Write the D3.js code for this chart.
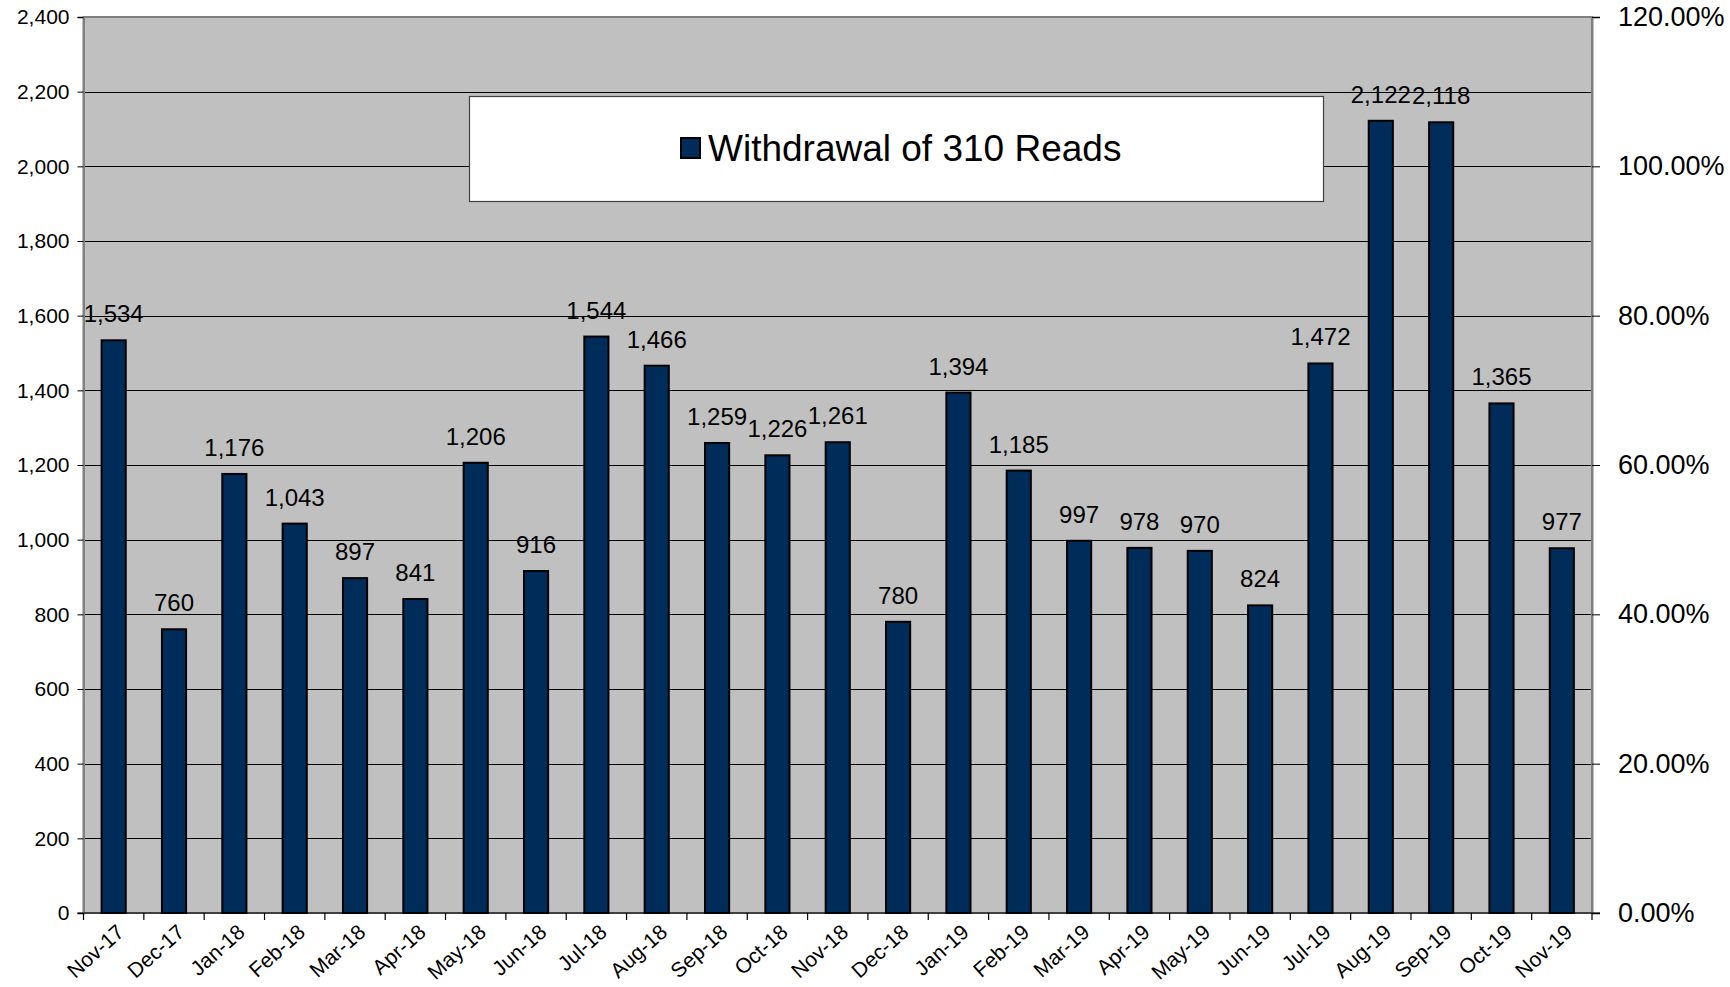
<!DOCTYPE html>
<html>
<head>
<meta charset="utf-8">
<script src="https://cdn.jsdelivr.net/npm/d3@7"></script>
<style>
  body { margin: 0; background: #fff; }
  text { font-family: "Liberation Sans", Arial, sans-serif; fill: #000; }
</style>
</head>
<body>
<svg id="chart" width="1730" height="987"></svg>
<script>
const months = ['Nov-17', 'Dec-17', 'Jan-18', 'Feb-18', 'Mar-18', 'Apr-18', 'May-18', 'Jun-18',
  'Jul-18', 'Aug-18', 'Sep-18', 'Oct-18', 'Nov-18', 'Dec-18', 'Jan-19', 'Feb-19', 'Mar-19',
  'Apr-19', 'May-19', 'Jun-19', 'Jul-19', 'Aug-19', 'Sep-19', 'Oct-19', 'Nov-19'];
const reads = [1534, 760, 1176, 1043, 897, 841, 1206, 916, 1544, 1466, 1259, 1226, 1261,
  780, 1394, 1185, 997, 978, 970, 824, 1472, 2122, 2118, 1365, 977];
const leftTicks = d3.range(0, 2401, 200);
const rightTicks = [0, 0.2, 0.4, 0.6, 0.8, 1.0, 1.2];
const seriesName = 'Withdrawal of 310 Reads';

const svg = d3.select('#chart');
const plotLeft = 83.5, plotRight = 1592, plotTop = 17, plotBottom = 913;

const x = d3.scaleBand().domain(months).range([plotLeft, plotRight]).paddingInner(0.6).paddingOuter(0.3);
const y = d3.scaleLinear().domain([0, 2400]).range([plotBottom, plotTop]);
const y2 = d3.scaleLinear().domain([0, 1.2]).range([plotBottom, plotTop]);

// plot background
svg.append('rect')
  .attr('x', plotLeft).attr('y', plotTop)
  .attr('width', plotRight - plotLeft).attr('height', plotBottom - plotTop)
  .attr('fill', '#c0c0c0');

// gridlines
svg.append('g')
  .selectAll('line')
  .data(leftTicks.slice(1, -1))
  .join('line')
  .attr('x1', plotLeft).attr('x2', plotRight)
  .attr('y1', d => Math.round(y(d)) + 0.5).attr('y2', d => Math.round(y(d)) + 0.5)
  .attr('stroke', '#000').attr('stroke-width', 1.2);

// plot border
svg.append('rect')
  .attr('x', plotLeft).attr('y', plotTop)
  .attr('width', plotRight - plotLeft).attr('height', plotBottom - plotTop)
  .attr('fill', 'none').attr('stroke', '#808080').attr('stroke-width', 2);

// bars
svg.append('g')
  .selectAll('rect')
  .data(reads)
  .join('rect')
  .attr('x', (d, i) => x(months[i]))
  .attr('y', d => y(d))
  .attr('width', x.bandwidth())
  .attr('height', d => plotBottom - y(d))
  .attr('fill', '#002c5a')
  .attr('stroke', '#000')
  .attr('stroke-width', 2);

// data labels
svg.append('g')
  .selectAll('text')
  .data(reads)
  .join('text')
  .attr('x', (d, i) => x(months[i]) + x.bandwidth() / 2)
  .attr('y', d => y(d) - 18)
  .attr('text-anchor', 'middle')
  .style('font-size', '24px')
  .text(d => d3.format(',')(d));

// left axis
const yAxis = svg.append('g')
  .attr('transform', `translate(${plotLeft},0)`)
  .call(d3.axisLeft(y).tickValues(leftTicks).tickFormat(d3.format(',')).tickSize(6).tickPadding(8));
yAxis.select('.domain').attr('stroke', '#808080').attr('stroke-width', 2);
yAxis.selectAll('.tick line').attr('stroke', '#000');
yAxis.selectAll('.tick text').style('font-size', '21px');

// right axis
const y2Axis = svg.append('g')
  .attr('transform', `translate(${plotRight},0)`)
  .call(d3.axisRight(y2).tickValues(rightTicks).tickFormat(d3.format('.2%')).tickSize(8).tickPadding(18));
y2Axis.select('.domain').attr('stroke', '#808080').attr('stroke-width', 2);
y2Axis.selectAll('.tick line').attr('stroke', '#000');
y2Axis.selectAll('.tick text').style('font-size', '27px');

// bottom axis: ticks on band edges
const edges = months.map(m => x(m) - x.step() * x.paddingInner() / 2).concat([plotRight]);
svg.append('g')
  .selectAll('line')
  .data(edges)
  .join('line')
  .attr('x1', d => d).attr('x2', d => d)
  .attr('y1', plotBottom).attr('y2', plotBottom + 7)
  .attr('stroke', '#000').attr('stroke-width', 1.2);
svg.append('line')
  .attr('x1', plotLeft - 6).attr('x2', plotRight + 8)
  .attr('y1', plotBottom).attr('y2', plotBottom)
  .attr('stroke', '#000').attr('stroke-width', 1.2);

svg.append('g')
  .selectAll('text')
  .data(months)
  .join('text')
  .attr('transform', d => `translate(${x(d) + x.bandwidth() / 2 + 2},${plotBottom + 10}) rotate(-42)`)
  .attr('text-anchor', 'end')
  .attr('dy', '0.7em')
  .style('font-size', '21px')
  .text(d => d);

// legend
const legend = svg.append('g');
legend.append('rect')
  .attr('x', 469.5).attr('y', 96.5)
  .attr('width', 854).attr('height', 105)
  .attr('fill', '#fff').attr('stroke', '#404040').attr('stroke-width', 1.2);
legend.append('rect')
  .attr('x', 681).attr('y', 138)
  .attr('width', 19).attr('height', 20)
  .attr('fill', '#002c5a').attr('stroke', '#000').attr('stroke-width', 2);
legend.append('text')
  .attr('x', 708).attr('y', 161)
  .style('font-size', '37px')
  .text(seriesName);
</script>
</body>
</html>
